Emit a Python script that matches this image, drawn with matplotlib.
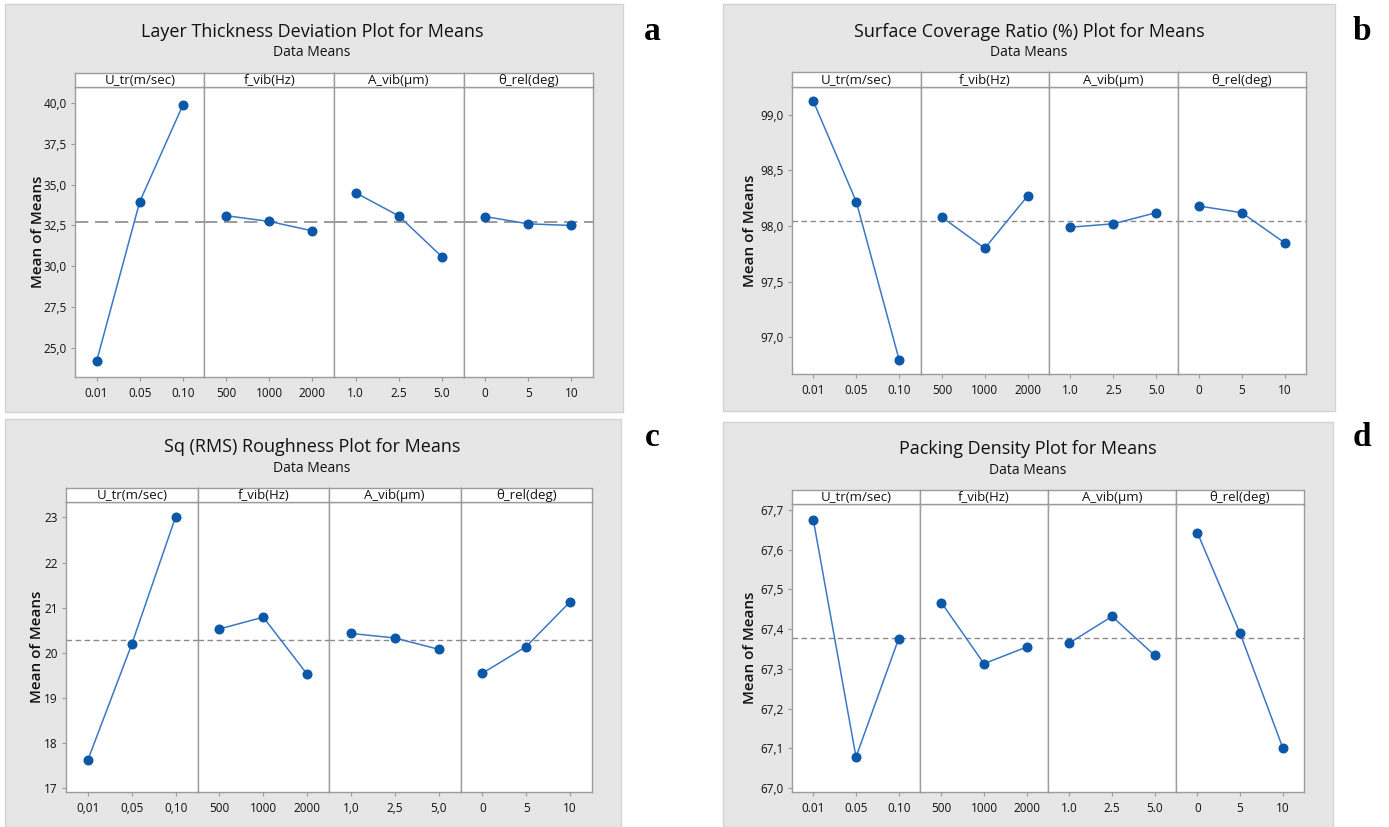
import numpy as np
import matplotlib
matplotlib.use("Agg")
import matplotlib.pyplot as plt
from matplotlib.patches import Rectangle
from matplotlib.ticker import FixedLocator, FuncFormatter

# ---- data -------------------------------------------------------------
factors = ["U_tr(m/sec)", "f_vib(Hz)", "A_vib(µm)", "θ_rel(deg)"]

levels_dot = [["0.01", "0.05", "0.10"], ["500", "1000", "2000"],
              ["1.0", "2.5", "5.0"], ["0", "5", "10"]]
levels_comma = [["0,01", "0,05", "0,10"], ["500", "1000", "2000"],
                ["1,0", "2,5", "5,0"], ["0", "5", "10"]]

layer_thickness = [[24.16, 33.96, 39.90], [33.10, 32.75, 32.17],
                   [34.51, 33.09, 30.58], [33.05, 32.60, 32.50]]
surface_coverage = [[99.12, 98.22, 96.80], [98.08, 97.80, 98.27],
                    [97.99, 98.02, 98.12], [98.18, 98.12, 97.85]]
sq_roughness = [[17.63, 20.19, 23.01], [20.53, 20.79, 19.53],
                [20.43, 20.33, 20.08], [19.55, 20.14, 21.13]]
packing_density = [[67.675, 67.078, 67.376], [67.467, 67.313, 67.355],
                   [67.365, 67.432, 67.334], [67.643, 67.390, 67.102]]

titles = ["Layer Thickness Deviation Plot for Means",
          "Surface Coverage Ratio (%) Plot for Means",
          "Sq (RMS) Roughness Plot for Means",
          "Packing Density Plot for Means"]
letters = ["a", "b", "c", "d"]

# ---- figure -----------------------------------------------------------
W, H = 1389, 827
fig = plt.figure(figsize=(W / 100, H / 100), dpi=100)
fig.patch.set_facecolor("white")

FONT = ["Open Sans", "DejaVu Sans"]
TXT = "#111111"
BG = "#e6e6e6"
EDGE = "#9c9c9c"
LINE_C = "#3a78c4"
MARK_C = "#0b57a8"


def fx(x):
    return x / W


def fy(y):
    return 1 - y / H


def rect(x0, y0, x1, y1):
    return [fx(x0), fy(y1), fx(x1) - fx(x0), fy(y0) - fy(y1)]


panels = [
    dict(data=layer_thickness, labels=levels_dot, bg=(5, 4, 623, 412),
         px=(75, 593), head=(73, 87), bot=377, tcx=312, ty=32, sy=53,
         let=(652, 32), ylx=38, ylim=(23.2, 41.0),
         yticks=[25.0, 27.5, 30.0, 32.5, 35.0, 37.5, 40.0], fmt="{:.1f}",
         dash=(8, 4), dlw=1.2),
    dict(data=surface_coverage, labels=levels_dot, bg=(723, 4, 1335, 411),
         px=(792, 1306), head=(72, 87), bot=374, tcx=1029, ty=32, sy=53,
         let=(1362, 32), ylx=750, ylim=(96.67, 99.25),
         yticks=[97.0, 97.5, 98.0, 98.5, 99.0], fmt="{:.1f}",
         dash=(4, 2.5), dlw=1.0),
    dict(data=sq_roughness, labels=levels_comma, bg=(5, 419, 621, 827),
         px=(66, 592), head=(488, 502), bot=792, tcx=312, ty=447, sy=468,
         let=(652, 438), ylx=37, ylim=(16.92, 23.34),
         yticks=[17, 18, 19, 20, 21, 22, 23], fmt="{:.0f}",
         dash=(4, 2.5), dlw=1.0),
    dict(data=packing_density, labels=levels_dot, bg=(723, 422, 1333, 827),
         px=(792, 1304), head=(490, 504), bot=792, tcx=1028, ty=449, sy=470,
         let=(1362, 437), ylx=750, ylim=(66.99, 67.715),
         yticks=[67.0, 67.1, 67.2, 67.3, 67.4, 67.5, 67.6, 67.7], fmt="{:.1f}",
         dash=(4, 2.5), dlw=1.0),
]

for p, title, letter in zip(panels, titles, letters):
    x0, y0, x1, y1 = p["bg"]
    fig.patches.append(Rectangle((fx(x0), fy(y1)), fx(x1) - fx(x0), fy(y0) - fy(y1),
                                 transform=fig.transFigure, facecolor=BG,
                                 edgecolor="#d2d2d2", lw=1.0, zorder=-10))
    fig.text(fx(p["tcx"]), fy(p["ty"]), title, ha="center", va="center",
             fontsize=13, color=TXT, family=FONT, fontweight="medium")
    fig.text(fx(p["tcx"]), fy(p["sy"]), "Data Means", ha="center", va="center",
             fontsize=10, color=TXT, family=FONT, fontweight="medium")
    fig.text(fx(p["let"][0]), fy(p["let"][1]), letter, ha="center", va="center",
             fontsize=24, fontweight="bold", color="black",
             family=["Liberation Serif", "DejaVu Serif"])

    values = p["data"]
    grand_mean = np.mean([v for row in values for v in row])
    left, right = p["px"]
    wsub = (right - left) / 4
    ht, hb = p["head"]
    fmt = p["fmt"]

    for i, (name, vals, labs) in enumerate(zip(factors, values, p["labels"])):
        xl = left + i * wsub
        xr = xl + wsub
        ax = fig.add_axes(rect(xl, hb, xr, p["bot"]))
        ax.set_facecolor("white")
        xs = np.arange(len(vals))
        ax.axhline(grand_mean, color="#8a8a8a", lw=p["dlw"], dashes=p["dash"], zorder=1)
        ax.plot(xs, vals, color=LINE_C, lw=1.1, zorder=2)
        ax.plot(xs, vals, "o", color=MARK_C, ms=6.2, zorder=3)
        ax.set_xlim(-0.5, 2.5)
        ax.set_ylim(*p["ylim"])
        ax.set_xticks(xs)
        ax.set_xticklabels(labs, fontsize=8.5, color=TXT, family=FONT,
                           fontweight="medium")
        ax.tick_params(axis="x", length=3, width=0.8, color=EDGE, pad=4)
        for s in ax.spines.values():
            s.set_color(EDGE)
            s.set_linewidth(1.0)
        if i == 0:
            ax.yaxis.set_major_locator(FixedLocator(p["yticks"]))
            ax.yaxis.set_major_formatter(
                FuncFormatter(lambda v, pos, f=fmt: f.format(v).replace(".", ",")))
            ax.tick_params(axis="y", length=3, width=0.8, color=EDGE, pad=3,
                           labelsize=8.5, labelcolor=TXT)
            for t in ax.get_yticklabels():
                t.set_family(FONT)
                t.set_fontweight("medium")
        else:
            ax.set_yticks([])

        hax = fig.add_axes(rect(xl, ht, xr, hb))
        hax.set_facecolor("white")
        hax.set_xticks([])
        hax.set_yticks([])
        for s in hax.spines.values():
            s.set_color(EDGE)
            s.set_linewidth(1.0)
        hax.text(0.5, 0.45, name, ha="center", va="center", fontsize=9.5,
                 color=TXT, family=FONT, fontweight="medium",
                 transform=hax.transAxes)

    fig.text(fx(p["ylx"]), fy((hb + p["bot"]) / 2), "Mean of Means", rotation=90,
             ha="center", va="center", fontsize=11, color=TXT, family=FONT,
             fontweight="semibold")

fig.savefig("out.png", dpi=100, facecolor="white")
